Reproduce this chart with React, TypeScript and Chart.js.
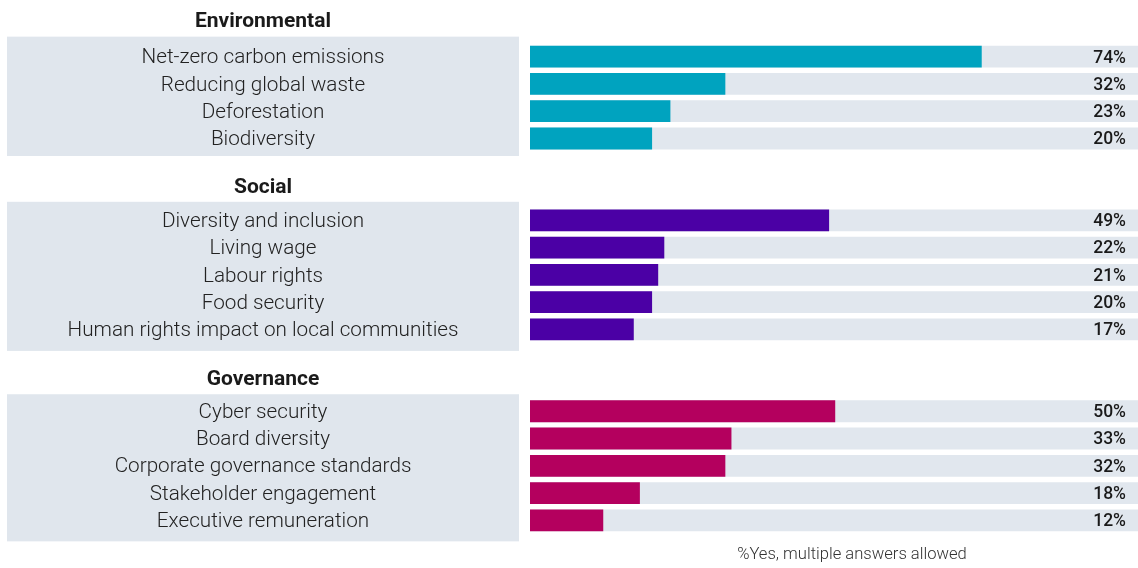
import React, { useEffect, useRef } from "react";
import { Chart, registerables } from "chart.js";

Chart.register(...registerables);

const groupNames = ["Environmental", "Social", "Governance"];
const envLabels = ["Net-zero carbon emissions", "Reducing global waste", "Deforestation", "Biodiversity"];
const envValues = [74, 32, 23, 20];
const socialLabels = ["Diversity and inclusion", "Living wage", "Labour rights", "Food security", "Human rights impact on local communities"];
const socialValues = [49, 22, 21, 20, 17];
const govLabels = ["Cyber security", "Board diversity", "Corporate governance standards", "Stakeholder engagement", "Executive remuneration"];
const govValues = [50, 33, 32, 18, 12];
const trackValue = 100;
const footnote = "%Yes, multiple answers allowed";

const groupColors = ["#00a3bf", "#4b00a5", "#b4005e"];
const trackColor = "#e1e7ee";
const panelColor = "#e0e6ed";
const panelTopPad = [20, 18.5, 17];
const panelBottomPad = [17.5, 21.5, 21];

type Row = { label: string; value: number | null; group: number; blank: boolean };

function buildRows(): Row[] {
  const groups = [
    [envLabels, envValues],
    [socialLabels, socialValues],
    [govLabels, govValues],
  ] as [string[], number[]][];
  const rows: Row[] = [];
  groups.forEach(([labels, values], g) => {
    if (g > 0) {
      rows.push({ label: "", value: null, group: g, blank: true });
      rows.push({ label: " ", value: null, group: g, blank: true });
    }
    labels.forEach((l, i) => rows.push({ label: l, value: values[i], group: g, blank: false }));
  });
  return rows;
}

export default function App() {
  const ref = useRef<HTMLCanvasElement>(null);
  useEffect(() => {
    if (!ref.current) return;
    const rows = buildRows();
    const labelFont = "300 20.7px Roboto";
    const overlay = {
      id: "overlay",
      beforeDatasetsDraw(chart: any) {
        const ctx = chart.ctx;
        const y = chart.scales.y;
        ctx.save();
        groupNames.forEach((name, g) => {
          const idx = rows.map((r, i) => (r.group === g && !r.blank ? i : -1)).filter((i) => i >= 0);
          const top = y.getPixelForValue(idx[0]) - panelTopPad[g];
          const bottom = y.getPixelForValue(idx[idx.length - 1]) + panelBottomPad[g];
          ctx.fillStyle = panelColor;
          ctx.fillRect(7, top, 512, bottom - top);
          ctx.fillStyle = "#1a1a1a";
          ctx.font = "bold 21px Roboto";
          ctx.textAlign = "center";
          ctx.textBaseline = "middle";
          ctx.fillText(name, 263, top - 14.5);
          ctx.font = labelFont;
          ctx.fillStyle = "#222222";
          idx.forEach((i) => {
            ctx.fillText(rows[i].label, 263, y.getPixelForValue(i) + 1.5);
          });
        });
        ctx.restore();
      },
      afterDatasetsDraw(chart: any) {
        const ctx = chart.ctx;
        const y = chart.scales.y;
        ctx.save();
        ctx.font = "500 17.5px Roboto";
        ctx.fillStyle = "#1a1a1a";
        ctx.textAlign = "right";
        ctx.textBaseline = "middle";
        rows.forEach((r, i) => {
          if (r.blank) return;
          ctx.fillText(r.value + "%", chart.chartArea.right - 12, y.getPixelForValue(i) + 1.5);
        });
        ctx.font = "300 16.6px Roboto";
        ctx.fillStyle = "#333333";
        ctx.textAlign = "center";
        ctx.fillText(footnote, 852, 555);
        ctx.restore();
      },
    };
    const chart = new Chart(ref.current, {
      type: "bar",
      data: {
        labels: rows.map((r, i) => (r.blank ? "blank" + i : r.label)),
        datasets: [
          {
            data: rows.map((r) => r.value),
            backgroundColor: rows.map((r) => groupColors[r.group]),
            grouped: false,
            categoryPercentage: 1,
            barPercentage: 0.8,
          },
          {
            data: rows.map((r) => (r.blank ? null : trackValue)),
            backgroundColor: trackColor,
            grouped: false,
            categoryPercentage: 1,
            barPercentage: 0.8,
          },
        ],
      },
      options: {
        indexAxis: "y",
        responsive: false,
        animation: false,
        layout: { padding: { left: 530, right: 0, top: 43, bottom: 34 } },
        plugins: { legend: { display: false }, tooltip: { enabled: false } },
        scales: {
          x: { display: false, min: 0, max: 99.6 },
          y: { display: false },
        },
      },
      plugins: [overlay],
    });
    return () => chart.destroy();
  }, []);
  return (
    <div style={{ position: "absolute", left: 0, top: 0, width: 1138, height: 568, background: "#fff" }}>
      <canvas ref={ref} width={1138} height={568} style={{ display: "block" }} />
    </div>
  );
}
